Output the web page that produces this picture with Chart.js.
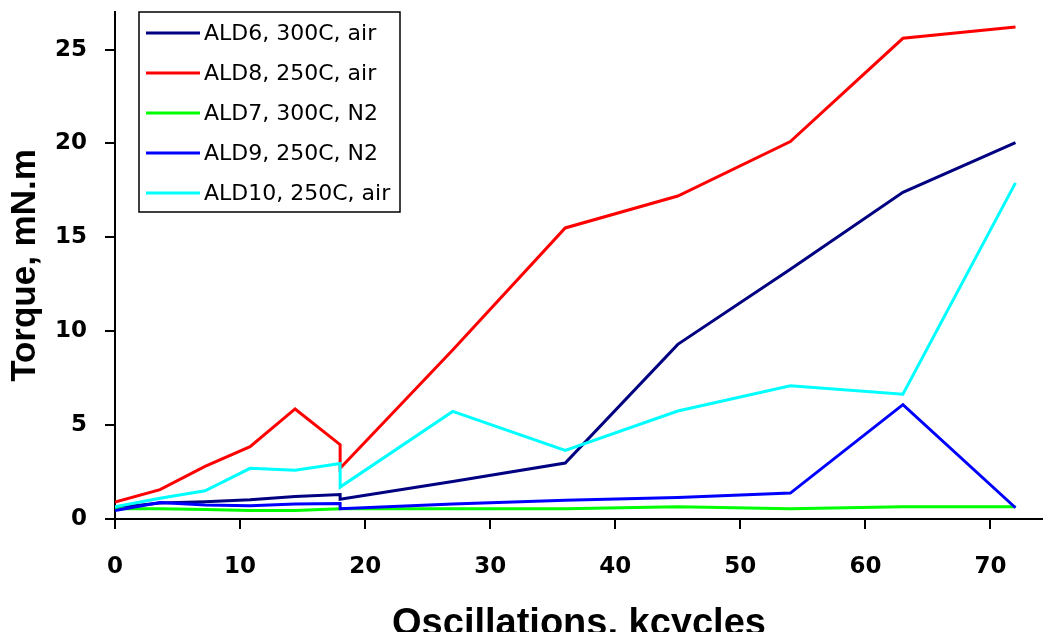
<!DOCTYPE html>
<html>
<head>
<meta charset="utf-8">
<script src="https://cdn.jsdelivr.net/npm/chart.js@4/dist/chart.umd.min.js"></script>
<style>
    body { margin: 0; background: #fff; }
    #wrap { width: 1043px; height: 632px; position: relative; }
</style>
</head>
<body>
<div id="wrap"><canvas id="torque-chart"></canvas></div>
<script>
        // kcycles at which torque was read (18 appears twice: the drop after the stop)
        const kcycles = [0, 3.6, 7.2, 10.8, 14.4, 18, 18, 27, 36, 45, 54, 63, 72];

        const ald6 = [0.6, 0.85, 0.92, 1.03, 1.2, 1.3, 1.05, 2.0, 2.98, 9.3, 13.3, 17.4, 20.05];
        const ald8 = [0.9, 1.56, 2.8, 3.85, 5.86, 3.96, 2.7, 9.0, 15.5, 17.2, 20.1, 25.6, 26.2];
        const ald7 = [0.55, 0.55, 0.5, 0.45, 0.45, 0.55, 0.55, 0.55, 0.55, 0.65, 0.55, 0.65, 0.65];
        const ald9 = [0.45, 0.88, 0.75, 0.7, 0.8, 0.82, 0.55, 0.8, 1.0, 1.15, 1.38, 6.09, 0.6];
        const ald10 = [0.65, 1.1, 1.5, 2.7, 2.6, 2.95, 1.7, 5.73, 3.65, 5.75, 7.1, 6.65, 17.9];

        const seriesNames = ['ALD6, 300C, air', 'ALD8, 250C, air', 'ALD7, 300C, N2', 'ALD9, 250C, N2', 'ALD10, 250C, air'];
        const seriesValues = [ald6, ald8, ald7, ald9, ald10];
        const seriesColors = ['#000080', '#ff0000', '#00ff00', '#0000ff', '#00ffff'];

        const xTicks = [0, 10, 20, 30, 40, 50, 60, 70];
        const yTicks = [0, 5, 10, 15, 20, 25];

        // legend box drawn inside the plot, top left
        const boxLegend = {
            id: 'boxLegend',
            afterDraw(chart) {
                const ctx = chart.ctx;
                const left = 139, top = 12, w = 261, h = 200;
                ctx.save();
                ctx.fillStyle = '#fff';
                ctx.fillRect(left, top, w, h);
                ctx.strokeStyle = '#000';
                ctx.lineWidth = 1.5;
                ctx.strokeRect(left, top, w, h);
                ctx.font = '22px "DejaVu Sans"';
                ctx.textBaseline = 'middle';
                ctx.fillStyle = '#000';
                chart.data.datasets.forEach((ds, i) => {
                    const y = top + 21 + i * 40;
                    ctx.strokeStyle = ds.borderColor;
                    ctx.lineWidth = 3;
                    ctx.beginPath();
                    ctx.moveTo(left + 7, y);
                    ctx.lineTo(left + 61, y);
                    ctx.stroke();
                    ctx.fillText(ds.label, left + 65, y + 1);
                });
                ctx.restore();
            }
        };

        const datasets = seriesNames.map((name, i) => ({
            label: name,
            data: kcycles.map((x, j) => ({ x: x, y: seriesValues[i][j] })),
            borderColor: seriesColors[i],
            backgroundColor: seriesColors[i],
            borderWidth: 3,
            pointRadius: 0,
            tension: 0,
            order: seriesNames.length - i
        }));

        const ctx = document.getElementById('torque-chart').getContext('2d');
        new Chart(ctx, {
            type: 'line',
            data: { datasets: datasets },
            options: {
                responsive: true,
                maintainAspectRatio: false,
                animation: false,
                layout: { padding: { top: 12, left: 0, right: 0, bottom: 0 } },
                plugins: {
                    legend: { display: false },
                    tooltip: { enabled: false }
                },
                scales: {
                    x: {
                        type: 'linear',
                        min: 0,
                        max: 74.2,
                        afterFit: s => { s.height = 113; s.paddingLeft = 0; s.paddingRight = 0; },
                        afterBuildTicks: s => { s.ticks = xTicks.map(v => ({ value: v })); },
                        grid: { drawOnChartArea: false, tickLength: 10, color: '#000', lineWidth: 2 },
                        border: { color: '#000', width: 2 },
                        ticks: {
                            color: '#000',
                            padding: 24,
                            font: { family: '"DejaVu Sans"', size: 23, weight: 'bold' }
                        },
                        title: {
                            display: true,
                            text: 'Oscillations, kcycles',
                            color: '#000',
                            font: { family: '"Liberation Sans"', size: 38, weight: 'bold', lineHeight: 1 },
                            padding: { top: 0, bottom: -12 }
                        }
                    },
                    y: {
                        min: 0,
                        max: 27,
                        afterFit: s => { s.width = 115; s.paddingTop = 0; s.paddingBottom = 0; },
                        afterBuildTicks: s => { s.ticks = yTicks.map(v => ({ value: v })); },
                        grid: { drawOnChartArea: false, tickLength: 10, color: '#000', lineWidth: 2 },
                        border: { color: '#000', width: 2 },
                        ticks: {
                            color: '#000',
                            padding: 18,
                            font: { family: '"DejaVu Sans"', size: 23, weight: 'bold' }
                        },
                        title: {
                            display: true,
                            text: 'Torque, mN.m',
                            color: '#000',
                            font: { family: '"Liberation Sans"', size: 35, weight: 'bold' },
                            padding: { top: 4, bottom: 0 }
                        }
                    }
                }
            },
            plugins: [boxLegend]
        });
</script>
</body>
</html>
